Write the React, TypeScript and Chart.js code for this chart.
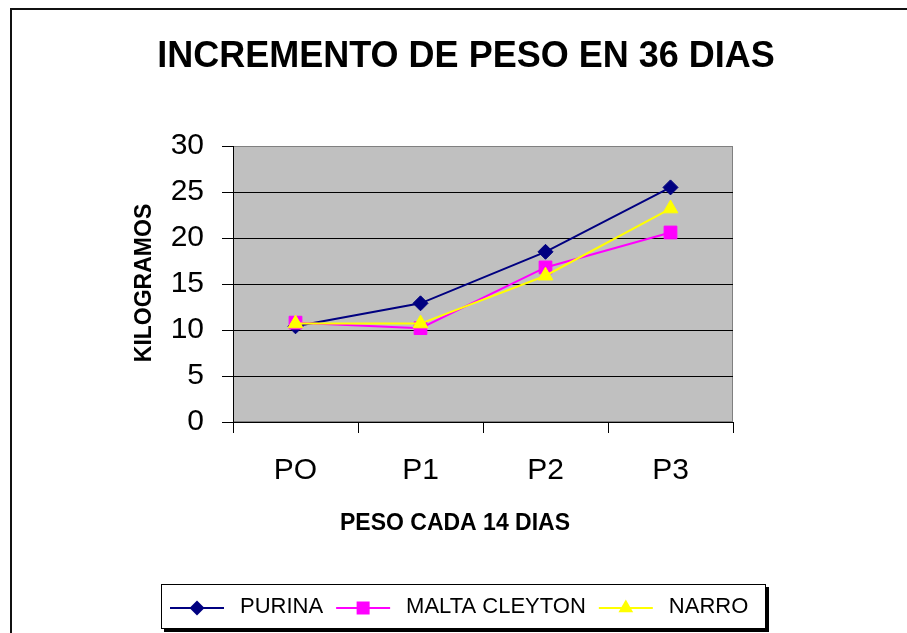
import React, { useEffect, useRef } from "react";
import { Chart, registerables } from "chart.js";

Chart.register(...registerables);

const CATEGORIES = ["PO", "P1", "P2", "P3"];
const PURINA = [10.4, 12.9, 18.5, 25.5];
const MALTA_CLEYTON = [10.8, 10.2, 16.8, 20.6];
const NARRO = [10.7, 10.7, 15.9, 23.2];
const SERIES_NAMES = ["PURINA", "MALTA CLEYTON", "NARRO"];
const SERIES_COLORS = ["#000080", "#FF00FF", "#FFFF00"];
const SERIES_SHAPES = ["rectRot", "rect", "triangle"];
const Y_MIN = 0;
const Y_MAX = 30;
const Y_STEP = 5;
const TITLE = "INCREMENTO DE PESO EN 36 DIAS";
const X_TITLE = "PESO CADA 14 DIAS";
const Y_TITLE = "KILOGRAMOS";

const FONT = "'Liberation Sans', Arial, sans-serif";
const W = 907;
const H = 633;

function drawMarker(ctx: CanvasRenderingContext2D, shape: string, x: number, y: number, color: string) {
  ctx.save();
  ctx.fillStyle = color;
  ctx.beginPath();
  if (shape === "rectRot") {
    const r = 7.5;
    ctx.moveTo(x, y - r);
    ctx.lineTo(x + r, y);
    ctx.lineTo(x, y + r);
    ctx.lineTo(x - r, y);
    ctx.closePath();
  } else if (shape === "rect") {
    const s = 6.5;
    ctx.rect(x - s, y - s, 2 * s, 2 * s);
  } else {
    const r = 8.5;
    ctx.moveTo(x, y - r);
    ctx.lineTo(x + r * 0.866, y + r / 2);
    ctx.lineTo(x - r * 0.866, y + r / 2);
    ctx.closePath();
  }
  ctx.fill();
  ctx.restore();
}

const decorPlugin = {
  id: "decor",
  beforeDraw(chart: any) {
    const { ctx, chartArea } = chart;
    ctx.save();
    ctx.fillStyle = "#ffffff";
    ctx.fillRect(0, 0, W, H);
    // outer chart border (top and left visible)
    ctx.fillStyle = "#111111";
    ctx.fillRect(10, 8, W - 10, 2);
    ctx.fillRect(10, 8, 2, H - 8);
    // plot area
    ctx.fillStyle = "#C0C0C0";
    ctx.fillRect(chartArea.left, chartArea.top, chartArea.right - chartArea.left, chartArea.bottom - chartArea.top);
    ctx.strokeStyle = "#808080";
    ctx.lineWidth = 1;
    ctx.strokeRect(chartArea.left + 0.5, chartArea.top + 0.5, chartArea.right - chartArea.left - 1, chartArea.bottom - chartArea.top - 1);
    ctx.restore();
  },
  afterDraw(chart: any) {
    const { ctx } = chart;
    ctx.save();
    ctx.fillStyle = "#000000";
    // chart title
    ctx.font = `bold 36px ${FONT}`;
    ctx.textAlign = "center";
    ctx.textBaseline = "alphabetic";
    ctx.fillText(TITLE, 466, 67);
    // x axis title
    ctx.font = `bold 23px ${FONT}`;
    ctx.fillText(X_TITLE, 455, 530);
    // y axis title
    ctx.save();
    ctx.translate(151, 283);
    ctx.rotate(-Math.PI / 2);
    ctx.textAlign = "center";
    ctx.textBaseline = "alphabetic";
    ctx.fillText(Y_TITLE, 0, 0);
    ctx.restore();

    // legend box with shadow
    const bx = 161, by = 584, bw = 605, bh = 45;
    ctx.fillStyle = "#000000";
    ctx.fillRect(bx + 3, by + 3, bw, bh);
    ctx.fillStyle = "#ffffff";
    ctx.fillRect(bx, by, bw, bh);
    ctx.strokeStyle = "#000000";
    ctx.lineWidth = 1;
    ctx.strokeRect(bx + 0.5, by + 0.5, bw - 1, bh - 1);

    ctx.font = `22px ${FONT}`;
    ctx.textAlign = "left";
    let x = 170;
    const ly = 608;
    chart.data.datasets.forEach((ds: any, i: number) => {
      ctx.strokeStyle = ds.borderColor;
      ctx.lineWidth = 2;
      ctx.beginPath();
      ctx.moveTo(x, ly);
      ctx.lineTo(x + 54, ly);
      ctx.stroke();
      drawMarker(ctx, SERIES_SHAPES[i], x + 27, ly, ds.borderColor);
      ctx.fillStyle = "#000000";
      ctx.fillText(ds.label, x + 70, 613);
      x += 70 + ctx.measureText(ds.label).width + 13;
    });
    ctx.restore();
  },
};

export default function App() {
  const ref = useRef<HTMLCanvasElement | null>(null);

  useEffect(() => {
    if (!ref.current) return;
    const seriesData = [PURINA, MALTA_CLEYTON, NARRO];
    const pointRadii = [7.5, 9, 8.5];
    const chart = new Chart(ref.current, {
      type: "line",
      data: {
        labels: CATEGORIES,
        datasets: seriesData.map((d, i) => ({
          label: SERIES_NAMES[i],
          data: d,
          borderColor: SERIES_COLORS[i],
          backgroundColor: SERIES_COLORS[i],
          pointBackgroundColor: SERIES_COLORS[i],
          pointBorderColor: SERIES_COLORS[i],
          pointBorderWidth: 1,
          borderWidth: 2,
          pointStyle: SERIES_SHAPES[i] as any,
          pointRadius: pointRadii[i],
          pointHoverRadius: pointRadii[i],
          tension: 0,
          fill: false,
          order: 2 - i,
        })),
      },
      options: {
        animation: false,
        responsive: false,
        devicePixelRatio: 1,
        layout: { padding: { top: 146, right: 174, left: 0, bottom: 0 } },
        plugins: {
          legend: { display: false },
          title: { display: false },
          tooltip: { enabled: false },
        },
        scales: {
          x: {
            type: "category",
            offset: true,
            grid: {
              offset: true,
              drawOnChartArea: false,
              drawTicks: true,
              tickLength: 11,
              tickColor: "#000000",
              color: "#000000",
            },
            border: { color: "#000000", width: 1 },
            ticks: {
              color: "#000000",
              font: { family: FONT, size: 30 },
              padding: 20,
              maxRotation: 0,
              autoSkip: false,
            },
            afterFit: (s: any) => {
              s.height = H - 422;
            },
          },
          y: {
            min: Y_MIN,
            max: Y_MAX,
            ticks: {
              stepSize: Y_STEP,
              color: "#000000",
              font: { family: FONT, size: 30 },
              padding: 18,
            },
            grid: {
              color: (c: any) => (c.tick && c.tick.value === Y_MAX ? "#808080" : "#000000"),
              tickColor: "#000000",
              tickLength: 11,
              lineWidth: 1,
            },
            border: { color: "#000000", width: 1 },
            afterFit: (s: any) => {
              s.width = 233;
            },
          },
        },
      },
      plugins: [decorPlugin],
    });
    return () => chart.destroy();
  }, []);

  return (
    <div style={{ position: "fixed", left: 0, top: 0, width: W, height: H, background: "#fff" }}>
      <canvas ref={ref} width={W} height={H} style={{ width: W, height: H, display: "block" }} />
    </div>
  );
}
